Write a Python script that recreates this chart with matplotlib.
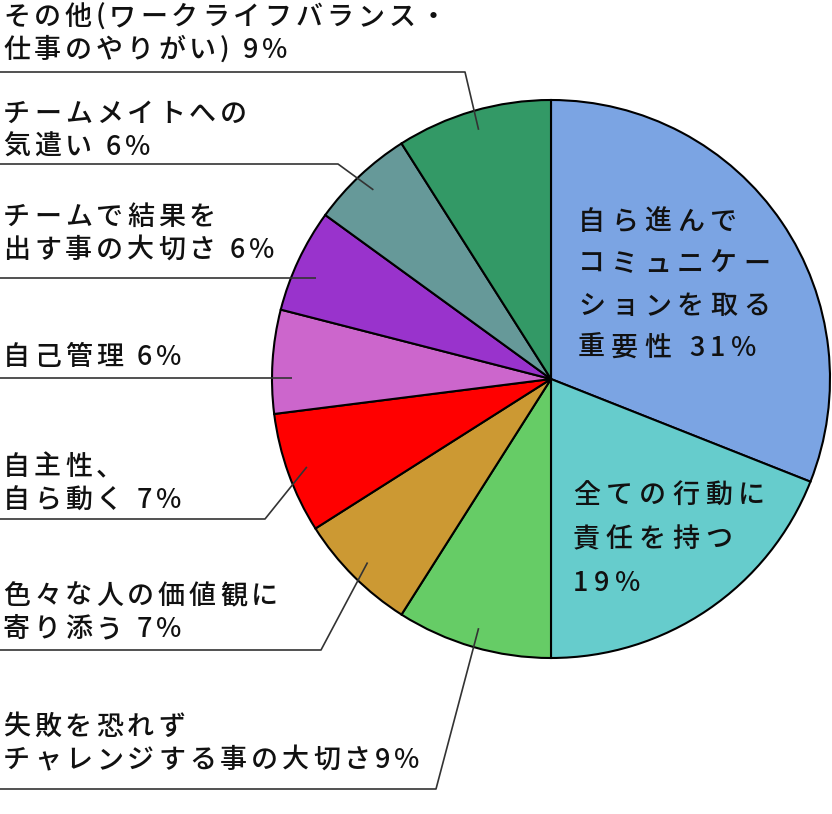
import numpy as np
import matplotlib
matplotlib.use("Agg")
import matplotlib.pyplot as plt
from matplotlib.font_manager import findfont, FontProperties
from matplotlib.ft2font import FT2Font

W, H = 832, 814
FONT = ["Noto Sans CJK JP", "DejaVu Sans"]

# wedge order: clockwise from 12 o'clock
values = [31, 19, 9, 7, 7, 6, 6, 6, 9]
colors = ["#7BA4E3", "#66CCCC", "#66CC66", "#CC9933", "#FF0000",
          "#CC66CC", "#9933CC", "#669999", "#339966"]
labels = [
    "自ら進んで\nコミュニケー\nションを取る\n重要性 {}%",
    "全ての行動に\n責任を持つ\n{}%",
    "失敗を恐れず\nチャレンジする事の大切さ{}%",
    "色々な人の価値観に\n寄り添う {}%",
    "自主性、\n自ら動く {}%",
    "自己管理 {}%",
    "チームで結果を\n出す事の大切さ {}%",
    "チームメイトへの\n気遣い {}%",
    "その他(ワークライフバランス・\n仕事のやりがい) {}%",
]

# layout in image pixels: text x, first baseline, line height, tracking,
# underline y, elbow x (None = straight), leader or not
layout = [
    (578, 230, 42, 6, None, None, False),
    (573, 503, 44, 6, None, None, False),
    (3, 735, 33, 4, 789, 436, True),
    (3, 604, 33, 4, 650, 321, True),
    (3, 475, 33, 4, 519, 265, True),
    (3, 365, 33, 4, 378, None, True),
    (3, 225, 33, 4, 278, None, True),
    (3, 122, 33, 4, 164, 338, True),
    (3, 25, 33, 4, 72, 465, True),
]

cx, cy, R = 551, 379, 279
SIZE = 27  # px

ft = FT2Font(findfont(FontProperties(family=FONT[0])), hinting_factor=1)
ft.set_size(SIZE, 72)


def advance(ch):
    return ft.load_char(ord(ch)).linearHoriAdvance / 65536.0


fig = plt.figure(figsize=(W / 100, H / 100), dpi=100)
ax = fig.add_axes([0, 0, 1, 1])

wedges, _ = ax.pie(values, colors=colors, startangle=90, counterclock=False,
                   center=(cx, H - cy), radius=R,
                   wedgeprops=dict(edgecolor="black", linewidth=1.5))
ax.set_xlim(0, W)
ax.set_ylim(0, H)
ax.set_aspect("equal")
ax.set_axis_off()


def draw_label(x, y, text, line_h, track):
    for i, line in enumerate(text.split("\n")):
        px = x
        for ch in line:
            if ch != " ":
                ax.text(px, H - (y + i * line_h), ch, fontsize=SIZE * 0.72,
                        family=FONT, fontweight="medium", ha="left",
                        va="baseline", color="#111111")
            px += advance(ch) + track


for w, v, lab, (tx, ty, lh, tr, uy, ex, lead) in zip(wedges, values, labels, layout):
    draw_label(tx, ty, lab.format(v), lh, tr)
    if not lead:
        continue
    mid = np.deg2rad((w.theta1 + w.theta2) / 2)
    ax_ = cx + 0.93 * R * np.cos(mid)
    ay_ = H - cy + 0.93 * R * np.sin(mid)
    if ex is None:
        xs, ys = [0, ax_], [H - uy, H - uy]
    else:
        xs, ys = [0, ex, ax_], [H - uy, H - uy, ay_]
    ax.plot(xs, ys, color="#333333", lw=1.2, solid_capstyle="butt")

fig.savefig("out.png", dpi=100)
